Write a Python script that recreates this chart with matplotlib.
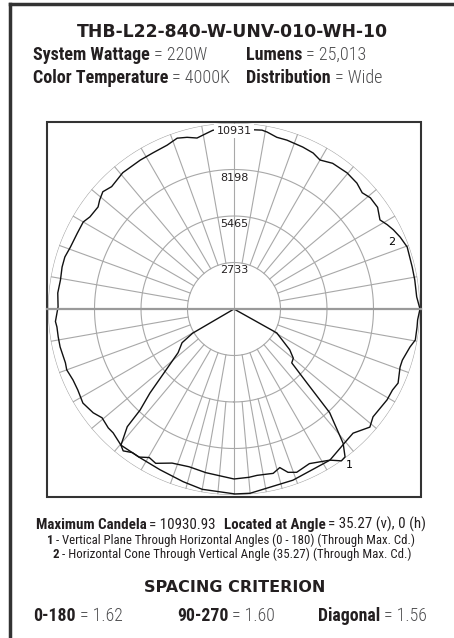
import numpy as np
import matplotlib.pyplot as plt
from matplotlib.patches import Rectangle
from matplotlib.lines import Line2D

# --- dane ---
title = 'THB-L22-840-W-UNV-010-WH-10'
rings = [2733, 5465, 8198, 10931]
max_cd = 10931

# krzywa 1: plaszczyzna pionowa (kat pionowy, cd), strona 0 i strona 180
v_h0 = [0, 5.1, 7.9, 13.4, 16.1, 18.3, 21, 26, 32.4, 35.27, 36.9, 39.1, 42.7, 44.6, 47, 50.3, 53.8, 60.8, 65]
cd_h0 = [9990, 9930, 9870, 9930, 9700, 10110, 10280, 10110, 10520, 10931, 10870, 10170, 8290, 6110, 4640, 4530, 4060, 2880, 0]
v_h180 = [0, 9.7, 15.9, 21.9, 26.9, 29.7, 32.7, 35.3, 38, 39.7, 42.2, 42.9, 45, 52, 57, 59.7, 65]
cd_h180 = [9990, 9760, 9640, 9760, 10170, 10050, 10340, 10340, 10580, 10400, 9340, 8110, 6990, 4170, 3640, 2820, 0]

# krzywa 2: stozek poziomy (kat poziomy, cd)
h_ang = [0, 3.8, 9.1, 13.3, 19.7, 23.4, 26.4, 28.8, 31.4, 35.3, 39.2, 42.2, 45.7, 50.3, 55.9, 60, 63.1, 67,
         72.6, 76, 79.4, 81.1, 90, 96.7, 98.7, 102.2, 105.3, 108.4, 112.2, 117.4, 122.2, 129.2, 135, 138.2,
         140.9, 143.1, 147.4, 150, 154.2, 159.3, 162.9, 166.3, 170.5, 174.8, 179.3, 184, 185.8, 189, 192.3,
         197.7, 200, 203.8, 207.4, 211.9, 216.4, 219.5, 223.4, 225.7, 230.3, 237.8, 245.3, 253.6, 260, 270.3,
         275, 289, 302.4, 310.8, 313.8, 319, 322.2, 329.3, 332.9, 335.7, 340.7, 343.1, 347.8, 350.3, 354.4,
         356.6, 360]
h_cd = [10930, 10760, 10760, 10760, 10810, 10640, 10460, 10280, 10050, 10340, 10340, 10170, 10340, 10400,
        10340, 10110, 10280, 10340, 10400, 10400, 10580, 10640, 10580, 10580, 10460, 10280, 10460, 10580,
        10400, 10340, 10340, 10340, 10170, 10340, 10170, 9990, 10050, 10230, 10230, 10280, 10400, 10400,
        10340, 10400, 10340, 10520, 10460, 10460, 10460, 10400, 10460, 10340, 10340, 10460, 10280, 10050,
        10170, 10170, 10400, 10340, 10400, 10580, 10760, 10870, 10870, 10640, 10520, 10170, 10110, 10580,
        10340, 10460, 10460, 10580, 10340, 10340, 10580, 10810, 10810, 10810, 10930]

# linie siatki w dolnej polowie (katy od nadiru)
grid_lower_10 = [10, 20, 30, 40, 50, 60, 70, 80]
grid_lower_5 = [5, 15]

W, H = 454, 638
fig = plt.figure(figsize=(W / 100, H / 100), dpi=100)
renderer = fig.canvas.get_renderer()

def px(x, y):
    return x / W, 1 - y / H

INK = '#231f20'
BOLD = dict(family='Roboto Condensed', weight='bold', color=INK)
LIGHT = dict(family='Roboto Condensed', weight='light', color='#4d4d4f')
REG = dict(family='Roboto Condensed', weight='normal', color=INK)

def runs(x, y, parts, size, ha='left', width=None):
    # sklada tekst z kawalkow (pogrubione + zwykle), linia bazowa w y
    texts = [fig.text(0, 0, s, va='baseline', fontsize=size, **kw) for s, kw, gap in parts]
    if width is not None:
        tot = sum(t.get_window_extent(renderer).width + g for t, (s, kw, g) in zip(texts, parts))
        for t in texts:
            t.set_fontsize(size * width / tot)
    widths = [t.get_window_extent(renderer).width + g for t, (s, kw, g) in zip(texts, parts)]
    x0 = x - sum(widths) / 2 if ha == 'center' else x
    for t, w in zip(texts, widths):
        t.set_position(px(x0, y))
        x0 += w

# ramka zewnetrzna
fig.add_artist(Line2D([10 / W, 10 / W], [0, 1 - 4 / H], transform=fig.transFigure, color='#333333', lw=2.5))
fig.add_artist(Line2D([10 / W, 1], [1 - 4 / H, 1 - 4 / H], transform=fig.transFigure, color='#333333', lw=2.5))

fig.text(*px(232, 37), title, ha='center', va='baseline', fontsize=12.4, family='DejaVu Sans',
         weight='bold', color=INK)

runs(33, 60, [('System Wattage', BOLD, 4), ('= 220W', LIGHT, 0)], 13)
runs(33, 83, [('Color Temperature', BOLD, 4), ('= 4000K', LIGHT, 0)], 13)
runs(246, 60, [('Lumens', BOLD, 4), ('= 25,013', LIGHT, 0)], 13)
runs(246, 83, [('Distribution', BOLD, 4), ('= Wide', LIGHT, 0)], 13)

# ramka wykresu
fig.add_artist(Rectangle(px(47, 497), 374 / W, 375 / H, transform=fig.transFigure,
                         fill=False, ec='#333333', lw=1.5))
# linia pozioma przez srodek
fig.add_artist(Line2D([47 / W, 421 / W], [1 - 309 / H] * 2, transform=fig.transFigure,
                      color='#9a9a9a', lw=1.6, zorder=1))

cx, cy, R = 234, 309, 186
ax = fig.add_axes([(cx - R) / W, (H - cy - R) / H, 2 * R / W, 2 * R / H], projection='polar')
ax.set_theta_zero_location('S')
ax.set_ylim(0, max_cd)
ax.grid(False)
ax.set_xticks([])
ax.set_yticks([])
ax.spines['polar'].set_visible(False)
ax.patch.set_alpha(0)

gc = '#a8a8a8'
th = np.linspace(0, 2 * np.pi, 361)
for r in rings:
    ax.plot(th, np.full_like(th, r), color=gc, lw=0.8, zorder=1)
# gorna polowa co 10 stopni
for a in range(100, 180, 10):
    for s in (1, -1):
        t = np.deg2rad(s * a)
        ax.plot([t, t], [rings[0], rings[-1]], color=gc, lw=0.8, zorder=1)
# dolna polowa
for a in grid_lower_10:
    for s in (1, -1):
        t = np.deg2rad(s * a)
        ax.plot([t, t], [rings[0], rings[-1]], color=gc, lw=0.8, zorder=1)
for a in grid_lower_5:
    for s in (1, -1):
        t = np.deg2rad(s * a)
        ax.plot([t, t], [rings[1], rings[-1]], color=gc, lw=0.8, zorder=1)
ax.plot([0, 0], [0, max_cd], color=gc, lw=0.8, zorder=1)
ax.plot([np.pi, np.pi], [0, max_cd], color=gc, lw=0.8, zorder=1)

# krzywe
t1 = np.deg2rad(np.concatenate([-np.array(v_h180[::-1]), np.array(v_h0)]))
r1 = np.concatenate([np.array(cd_h180[::-1]), np.array(cd_h0)])
ax.plot(t1, r1, color='#111111', lw=1.0, zorder=3, clip_on=False)
t2 = np.deg2rad(np.array(h_ang) + 90)
ax.plot(t2, h_cd, color='#111111', lw=1.0, zorder=3, clip_on=False)

ax.text(np.deg2rad(36.4), 11400, '1', fontsize=8, ha='center', va='center', family='DejaVu Sans', clip_on=False)
ax.text(np.deg2rad(113), 10050, '2', fontsize=8, ha='center', va='center', family='DejaVu Sans')

for r in rings:
    bbox = dict(fc='white', ec='none', pad=1.5) if r == rings[-1] else None
    ax.text(np.pi, r - 470, str(r), fontsize=8, ha='center', va='center', family='DejaVu Sans',
            color=INK, bbox=bbox, zorder=5)

# opisy pod wykresem
runs(231, 529, [('Maximum Candela', BOLD, 3), ('= 10930.93', REG, 8),
                ('Located at Angle', BOLD, 3), ('= 35.27 (v), 0 (h)', REG, 0)],
     9.5, ha='center', width=393)
runs(231, 544, [('1', BOLD, 3), ('- Vertical Plane Through Horizontal Angles (0 - 180) (Through Max. Cd.)', REG, 0)],
     7.5, ha='center', width=367)
runs(232, 558, [('2', BOLD, 3), ('- Horizontal Cone Through Vertical Angle (35.27) (Through Max. Cd.)', REG, 0)],
     7.5, ha='center', width=355)

fig.text(*px(235, 592), 'SPACING CRITERION', ha='center', va='baseline', fontsize=11.5, family='DejaVu Sans',
         weight='bold', color=INK)
runs(33, 621, [('0-180', BOLD, 4), ('= 1.62', LIGHT, 0)], 12.8)
runs(177, 621, [('90-270', BOLD, 4), ('= 1.60', LIGHT, 0)], 12.8)
runs(318, 621, [('Diagonal', BOLD, 4), ('= 1.56', LIGHT, 0)], 12.8)

fig.savefig('out.png', dpi=100)
